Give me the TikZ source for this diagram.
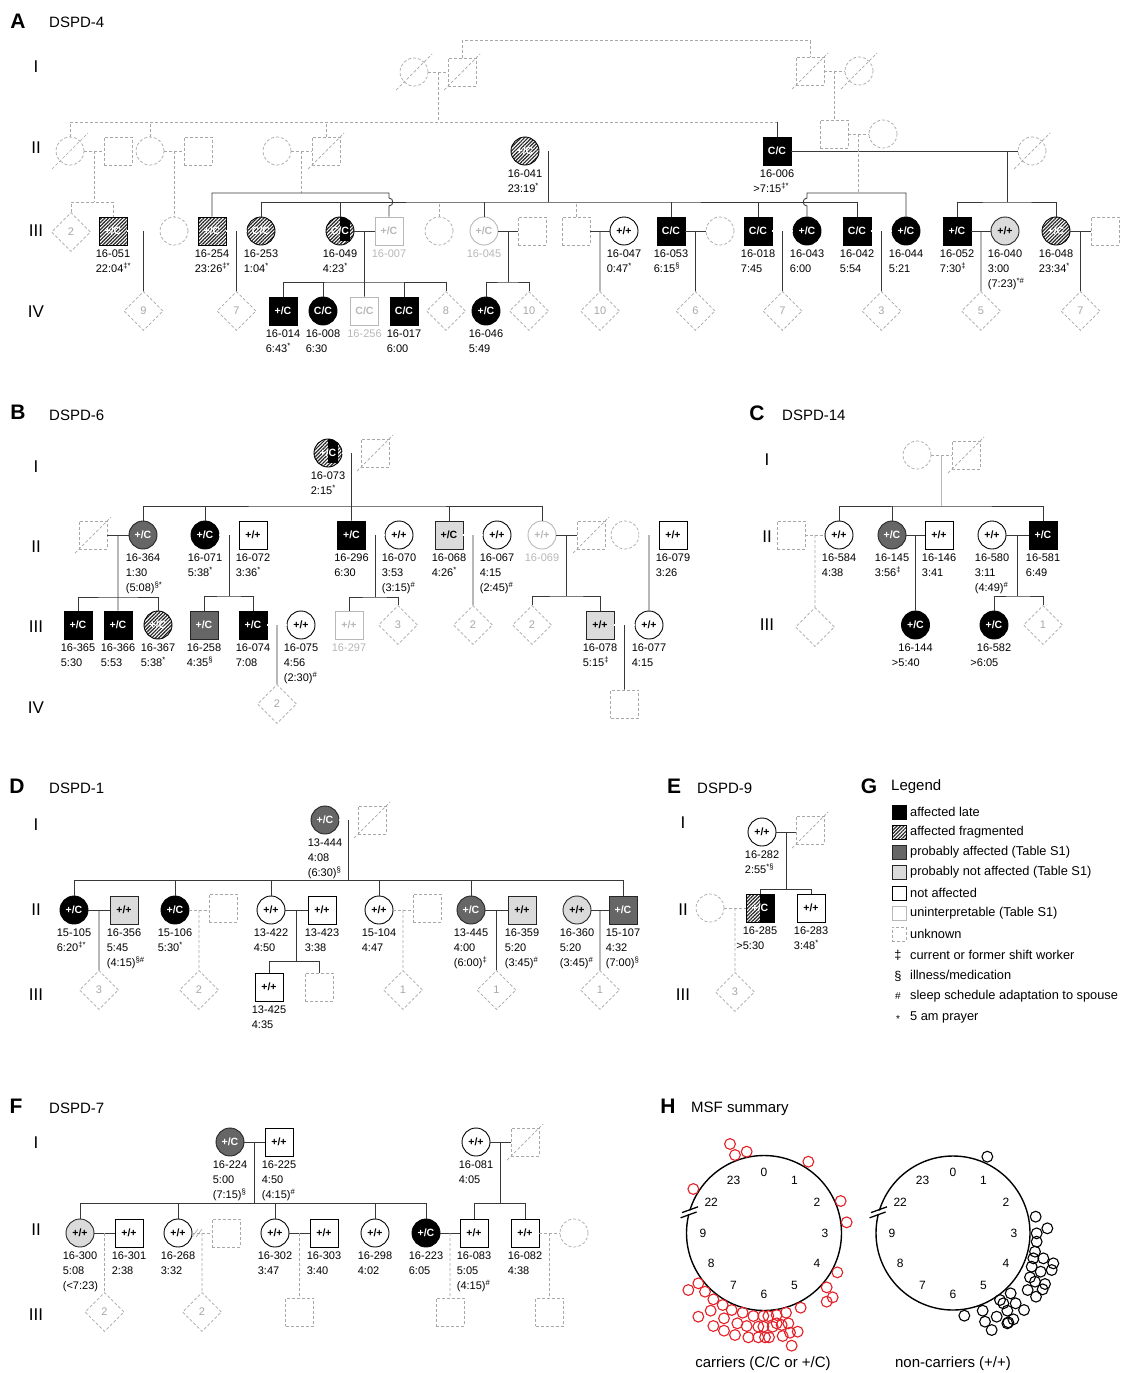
\documentclass[tikz,border=0pt]{standalone}
\usepackage{fontspec}
\setmainfont{Liberation Sans}
\usetikzlibrary{calc,shapes.geometric,patterns.meta}
\definecolor{linec}{gray}{0.22}
\definecolor{unkc}{gray}{0.66}
\definecolor{unc}{gray}{0.72}
\definecolor{probc}{gray}{0.40}
\definecolor{pnac}{gray}{0.86}
\definecolor{redc}{RGB}{228,32,38}
\newcommand\symf{\fontsize{10.5}{12}\selectfont\bfseries}
\newcommand\labf{\fontsize{11}{15}\selectfont}
\newcommand\genf{\fontsize{17}{17}\selectfont}
\newcommand\panf{\fontsize{21}{21}\selectfont\bfseries}
\newcommand\titf{\fontsize{15}{15}\selectfont}
\newcommand\diaf{\fontsize{11}{11}\selectfont}
\newcommand\legf{\fontsize{12.8}{14}\selectfont}
\newcommand\clkf{\fontsize{12}{12}\selectfont}
\newcommand\ssp[1]{\textsuperscript{#1}}
\tikzset{
 symb/.style={inner sep=0pt, minimum size=28pt, line width=0.9pt, font=\symf},
 sq/.style={symb, rectangle},
 ci/.style={symb, circle},
 aff/.style={draw=black, fill=black, text=white},
 frag/.style={draw=black, text=white, pattern={Lines[angle=45,distance=2.5pt,line width=1.2pt]}, pattern color=black!85},
 prob/.style={draw=black!85, fill=probc, text=white},
 pna/.style={draw=black!85, fill=pnac, text=black},
 na/.style={draw=black, fill=white, text=black},
 un/.style={draw=unc, fill=white, text=unc},
 dsh/.style={dash pattern=on 3pt off 2pt},
 unk/.style={draw=unkc, dsh, line width=0.7pt},
 dia/.style={diamond, shape aspect=1, minimum width=39pt, minimum height=39pt, inner sep=0pt, draw=unkc, dsh, line width=0.7pt, text=unkc, font=\diaf},
 ln/.style={draw=linec, line width=0.85pt},
 dl/.style={draw=linec, line width=0.65pt, double=white, double distance=1.3pt},
 dln/.style={draw=unkc, line width=0.7pt, dsh},
 ddl/.style={draw=linec!80, line width=0.6pt, double=white, double distance=1.3pt, dsh},
 lab/.style={anchor=north, align=left, inner sep=0pt, font=\labf},
 gen/.style={font=\genf, inner sep=0pt},
 pan/.style={font=\panf, inner sep=0pt},
 tit/.style={font=\titf, inner sep=0pt, anchor=west},
 leg/.style={font=\legf, inner sep=0pt, anchor=west},
 ico/.style={minimum size=14pt, inner sep=0pt, rectangle, line width=0.8pt},
 dot/.style={line width=1.1pt},
}
\newcommand\decd[1]{\draw[draw=unkc,line width=0.7pt,dsh] ($(#1.center)+(-18,18)$) -- ($(#1.center)+(18,-18)$);}
\newcommand\lbl[3][]{\node[lab,#1] (#2L) at ($(#2.south)+(0,4)$) {#3};}
\newcommand\halfc[2]{\begin{scope}\clip (#1.center) circle[radius=14pt];\fill[black] (#1.north) rectangle (#1.south east);\end{scope}\node[font=\symf,text=white,inner sep=0pt] (#1T) at (#1.center) {#2};}
\newcommand\halfs[2]{\fill[black] (#1.north) rectangle (#1.south east);\node[font=\symf,text=white,inner sep=0pt] (#1T) at (#1.center) {#2};}
\begin{document}
\begin{tikzpicture}[x=1pt,y=-1pt]
\fill[white] (0,0) rectangle (1130,1373);
\useasboundingbox (0,0) rectangle (1130,1373);

%%%%%%%%%%%%%%%% PANEL A
\node[pan] (hA) at (18,21) {A};
\node[tit] (tA) at (49,22) {DSPD-4};
\node[gen] (gA1) at (36,67) {I};
\node[gen] (gA2) at (36,148) {II};
\node[gen] (gA3) at (36,231) {III};
\node[gen] (gA4) at (36,312) {IV};
% gen I
\node[ci,unk] (a1) at (414,72) {};
\node[sq,unk] (a2) at (462,72) {};
\node[sq,unk] (a3) at (810,71) {};
\node[ci,unk] (a4) at (859,71) {};
\decd{a1}\decd{a2}\decd{a3}\decd{a4}
\draw[dln] (a1) -- (a2);
\draw[dln] (a3) -- (a4);
\draw[dln] (a2.north) -- ++(0,-17) -| (a3.north);
% gen II
\node[ci,unk] (a5) at (70,151) {};
\node[sq,unk] (a6) at (118,151) {};
\node[ci,unk] (a7) at (150,151) {};
\node[sq,unk] (a8) at (198,151) {};
\node[ci,unk] (a9) at (277,151) {};
\node[sq,unk] (a10) at (326,151) {};
\node[ci,frag] (p041) at (525,151) {+/C};
\node[sq,aff] (p006) at (777,151) {C/C};
\node[sq,unk] (a11) at (834,134) {};
\node[ci,unk] (a12) at (883,134) {};
\node[ci,unk] (a13) at (1032,151) {};
\decd{a5}\decd{a10}\decd{a13}
\coordinate (sA2) at (70,122);
\draw[dln] (a5.north) -- (sA2) -- (p006.north |- sA2);
\draw[ln] (p006.north |- sA2) -- (p006.north);
\draw[dln] (a7.north) -- (a7.north |- sA2);
\draw[dln] (a10.north) -- (a10.north |- sA2);
\coordinate (jA1) at ($(a1.east)!0.5!(a2.west)$);
\draw[dln] (jA1) -- (jA1 |- sA2);
\coordinate (jA2) at ($(a3.east)!0.5!(a4.west)$);
\draw[dln] (jA2) -- (jA2 |- a11.north);
\draw[dln] (a5) -- (a6);
\draw[dln] (a7) -- (a8);
\draw[dln] (a9) -- (a10);
\draw[dl] (p041) -- (p006);
\draw[dln] (a11) -- (a12);
\draw[ln] (p006) -- (a13);
% gen III
\node[dia] (dA2) at (71,232) {2};
\node[sq,frag] (p051) at (113,231) {+/C};
\node[ci,unk] (a14) at (174,231) {};
\node[sq,frag] (p254) at (212,231) {+/C};
\node[ci,frag] (p253) at (261,231) {C/C};
\node[ci,frag] (p049) at (340,231) {};
\halfc{p049}{C/C}
\node[sq,un] (p007) at (389,231) {+/C};
\node[ci,unk] (a15) at (439,231) {};
\node[ci,un] (p045) at (484,231) {+/C};
\node[sq,unk] (a17) at (532,231) {};
\node[sq,unk] (a16) at (576,231) {};
\node[ci,na] (p047) at (624,231) {+/+};
\node[sq,aff] (p053) at (671,231) {C/C};
\node[ci,unk] (a18) at (720,231) {};
\node[sq,aff] (p018) at (758,231) {C/C};
\node[ci,aff] (p043) at (807,231) {+/C};
\node[sq,aff] (p042) at (857,231) {C/C};
\node[ci,aff] (p044) at (906,231) {+/C};
\node[sq,aff] (p052) at (957,231) {+/C};
\node[ci,pna] (p040) at (1005,231) {+/+};
\node[ci,frag] (p048) at (1056,231) {+/C};
\node[sq,unk] (a19) at (1105,231) {};
% links to gen III
\coordinate (jA5) at ($(a5.east)!0.5!(a6.west)$);
\coordinate (bA1) at (jA5 |- 0,202);
\draw[dln] (jA5) -- (bA1);
\draw[dln] (dA2.north) |- (bA1) -| (p051.north);
\coordinate (jA6) at ($(a7.east)!0.5!(a8.west)$);
\draw[dln] (jA6) -- (jA6 |- a14.north);
\coordinate (jA3) at ($(a9.east)!0.5!(a10.west)$);
\coordinate (bA3) at (jA3 |- 0,193);
\draw[dln] (jA3) -- (bA3);
\draw[ln] (p254.north) |- (bA3) -- (389,193) -- (389,198) .. controls (394,198) and (394,206) .. (389,206) -- (p007.north);
\coordinate (jA4) at (548,151);
\coordinate (bA4) at (548,202);
\draw[ln] (jA4) -- (bA4);
\draw[ln] (p253.north) |- (bA4) -| (p042.north);
\draw[ln] (p049.north) -- (p049.north |- bA4);
\draw[ln] (p045.north) -- (p045.north |- bA4);
\draw[ln] (p053.north) -- (p053.north |- bA4);
\draw[ln] (p018.north) -- (p018.north |- bA4);
\draw[dln] (a15.north) -- (a15.north |- bA4);
\draw[dln] (a16.north) -- (a16.north |- bA4);
\coordinate (jA7) at ($(a11.east)!0.5!(a12.west)$);
\coordinate (bA7) at (jA7 |- 0,193);
\draw[dln] (jA7) -- (bA7);
\draw[ln] (p044.north) |- (bA7) -- (807,193) -- (807,198) .. controls (802,198) and (802,206) .. (807,206) -- (p043.north);
\coordinate (jA8) at (1007,151);
\coordinate (bA8) at (1007,202);
\draw[ln] (jA8) -- (bA8);
\draw[ln] (p052.north) |- (bA8) -| (p048.north);
% gen III marriages
\draw[dl] (p051) -- (a14);
\draw[dl] (p254) -- (p253);
\draw[ln] (p049) -- (p007);
\draw[ln] (p045) -- (a17);
\draw[ln] (a16) -- (p047);
\draw[ln] (p053) -- (a18);
\draw[dl] (p018) -- (p043);
\draw[dl] (p042) -- (p044);
\draw[ln] (p052) -- (p040);
\draw[ln] (p048) -- (a19);
% gen IV
\node[dia] (d9) at (143.5,311) {9};
\node[dia] (d7) at (236.5,311) {7};
\node[sq,aff] (p014) at (283,311) {+/C};
\node[ci,aff] (p008) at (323,311) {C/C};
\node[sq,un] (p256) at (364.5,311) {C/C};
\node[sq,aff] (p017) at (404,311) {C/C};
\node[dia] (d8) at (446,311) {8};
\node[ci,aff] (p046) at (486,311) {+/C};
\node[dia] (d10) at (529,311) {10};
\node[dia] (d10b) at (600,311) {10};
\node[dia] (d6) at (695.5,311) {6};
\node[dia] (d7b) at (782.5,311) {7};
\node[dia] (d3) at (881.5,311) {3};
\node[dia] (d5) at (981,311) {5};
\node[dia] (d7c) at (1080.5,311) {7};
\coordinate (jA9) at ($(p051.east)!0.5!(a14.west)$);
\draw[ln] (jA9) -- (d9.north);
\coordinate (jA10) at ($(p254.east)!0.5!(p253.west)$);
\draw[ln] (jA10) -- (d7.north);
\coordinate (jA11) at ($(p049.east)!0.5!(p007.west)$);
\coordinate (bA9) at (jA11 |- 0,282);
\draw[ln] (jA11) -- (bA9) -- (p256.north);
\draw[ln] (p014.north) |- (bA9) -| (d8.north);
\draw[ln] (p008.north) -- (p008.north |- bA9);
\draw[ln] (p017.north) -- (p017.north |- bA9);
\coordinate (jA12) at ($(p045.east)!0.5!(a17.west)$);
\coordinate (bA10) at (jA12 |- 0,282);
\draw[ln] (jA12) -- (bA10);
\draw[ln] (p046.north) |- (bA10) -| (d10.north);
\coordinate (jA13) at ($(a16.east)!0.5!(p047.west)$);
\draw[ln] (jA13) -- (d10b.north);
\coordinate (jA14) at ($(p053.east)!0.5!(a18.west)$);
\draw[ln] (jA14) -- (d6.north);
\coordinate (jA15) at ($(p018.east)!0.5!(p043.west)$);
\draw[ln] (jA15) -- (d7b.north);
\coordinate (jA16) at ($(p042.east)!0.5!(p044.west)$);
\draw[ln] (jA16) -- (d3.north);
\coordinate (jA17) at ($(p052.east)!0.5!(p040.west)$);
\draw[ln] (jA17) -- (d5.north);
\coordinate (jA18) at ($(p048.east)!0.5!(a19.west)$);
\draw[ln] (jA18) -- (d7c.north);
% labels A
\lbl{p041}{16-041\\\rlap{23:19\ssp{*}}}
\lbl{p006}{16-006\\\rlap{\llap{>}7:15\ssp{‡*}}}
\lbl{p051}{16-051\\\rlap{22:04\ssp{‡*}}}
\lbl{p254}{16-254\\\rlap{23:26\ssp{‡*}}}
\lbl{p253}{16-253\\\rlap{1:04\ssp{*}}}
\lbl{p049}{16-049\\\rlap{4:23\ssp{*}}}
\lbl[text=unc]{p007}{16-007}
\lbl[text=unc]{p045}{16-045}
\lbl{p047}{16-047\\\rlap{0:47\ssp{*}}}
\lbl{p053}{16-053\\\rlap{6:15\ssp{§}}}
\lbl{p018}{16-018\\\rlap{7:45}}
\lbl{p043}{16-043\\\rlap{6:00}}
\lbl{p042}{16-042\\\rlap{5:54}}
\lbl{p044}{16-044\\\rlap{5:21}}
\lbl{p052}{16-052\\\rlap{7:30\ssp{‡}}}
\lbl{p040}{16-040\\\rlap{3:00}\\\rlap{(7:23)\ssp{*\#}}}
\lbl{p048}{16-048\\\rlap{23:34\ssp{*}}}
\lbl{p014}{16-014\\\rlap{6:43\ssp{*}}}
\lbl{p008}{16-008\\\rlap{6:30}}
\lbl[text=unc]{p256}{16-256}
\lbl{p017}{16-017\\\rlap{6:00}}
\lbl{p046}{16-046\\\rlap{5:49}}

%%%%%%%%%%%%%%%% PANEL B
\node[pan] (hB) at (18,412) {B};
\node[tit] (tB) at (49,415) {DSPD-6};
\node[gen] (gB1) at (36,467) {I};
\node[gen] (gB2) at (36,547) {II};
\node[gen] (gB3) at (36,627) {III};
\node[gen] (gB4) at (36,708) {IV};
\node[ci,frag] (b1) at (328,453) {};
\halfc{b1}{+/C}
\node[sq,unk] (b2) at (375,453) {};
\decd{b2}
\draw[ddl] (b1) -- (b2);
\node[sq,unk] (b3) at (93,535) {};
\decd{b3}
\node[ci,prob] (p364) at (143,535) {+/C};
\node[ci,aff] (p071) at (205,535) {+/C};
\node[sq,na] (p072) at (253,535) {+/+};
\node[sq,aff] (p296) at (351.5,535) {+/C};
\node[ci,na] (p070) at (399,535) {+/+};
\node[sq,pna] (p068) at (449,535) {+/C};
\node[ci,na] (p067) at (497,535) {+/+};
\node[ci,un] (p069) at (542,535) {+/+};
\node[sq,unk] (b4) at (591,535) {};
\decd{b4}
\node[ci,unk] (b5) at (625,535) {};
\node[sq,na] (p079) at (673,535) {+/+};
\coordinate (jB1) at ($(b1.east)!0.5!(b2.west)$);
\coordinate (bB1) at (jB1 |- 0,506);
\draw[ln] (jB1) -- (bB1) -- (p296.north);
\draw[ln] (p364.north) |- (bB1) -| (p069.north);
\draw[ln] (p071.north) -- (p071.north |- bB1);
\draw[ln] (p068.north) -- (p068.north |- bB1);
\draw[ln] (b3) -- (p364);
\draw[dl] (p071) -- (p072);
\draw[dl] (p296) -- (p070);
\draw[dl] (p068) -- (p067);
\draw[ln] (p069) -- (b4);
\draw[dl] (b5) -- (p079);
% gen III
\node[sq,aff] (p365) at (78,625) {+/C};
\node[sq,aff] (p366) at (118,625) {+/C};
\node[ci,frag] (p367) at (158,625) {+/C};
\node[sq,prob] (p258) at (204,625) {+/C};
\node[sq,aff] (p074) at (253,625) {+/C};
\node[ci,na] (p075) at (301,625) {+/+};
\node[sq,un] (p297) at (349,625) {+/+};
\node[dia] (d3B) at (398,625) {3};
\node[dia] (d2C) at (473,625) {2};
\node[dia] (d2D) at (532,625) {2};
\node[sq,pna] (p078) at (600,625) {+/+};
\node[ci,na] (p077) at (649,625) {+/+};
\node[dia] (d2B) at (277,704) {2};
\node[sq,unk] (b6) at (624.5,704) {};
\coordinate (jB2) at ($(b3.east)!0.5!(p364.west)$);
\coordinate (bB2) at (jB2 |- 0,597);
\draw[ln] (jB2) -- (bB2) -- (p366.north);
\draw[ln] (p365.north) |- (bB2) -| (p367.north);
\coordinate (jB3) at ($(p071.east)!0.5!(p072.west)$);
\coordinate (bB3) at (jB3 |- 0,596);
\draw[ln] (jB3) -- (bB3);
\draw[ln] (p258.north) |- (bB3) -| (p074.north);
\draw[dl] (p074) -- (p075);
\coordinate (jB4) at ($(p074.east)!0.5!(p075.west)$);
\draw[ln] (jB4) -- (d2B.north);
\coordinate (jB5) at ($(p296.east)!0.5!(p070.west)$);
\coordinate (bB5) at (jB5 |- 0,597);
\draw[ln] (jB5) -- (bB5);
\draw[ln] (p297.north) |- (bB5) -| (d3B.north);
\coordinate (jB6) at ($(p068.east)!0.5!(p067.west)$);
\draw[ln] (jB6) -- (d2C.north);
\coordinate (jB7) at ($(p069.east)!0.5!(b4.west)$);
\coordinate (bB7) at (jB7 |- 0,596);
\draw[ln] (jB7) -- (bB7);
\draw[ln] (d2D.north) |- (bB7) -| (p078.north);
\coordinate (jB8) at ($(b5.east)!0.5!(p079.west)$);
\draw[ln] (jB8) -- (p077.north);
\draw[dl] (p078) -- (p077);
\coordinate (jB9) at ($(p078.east)!0.5!(p077.west)$);
\draw[ln] (jB9) -- (b6.north);
% labels B
\lbl{b1}{16-073\\\rlap{2:15\ssp{*}}}
\lbl{p364}{16-364\\\rlap{1:30}\\\rlap{(5:08)\ssp{§*}}}
\lbl{p071}{16-071\\\rlap{5:38\ssp{*}}}
\lbl{p072}{16-072\\\rlap{3:36\ssp{*}}}
\lbl{p296}{16-296\\\rlap{6:30}}
\lbl{p070}{16-070\\\rlap{3:53}\\\rlap{(3:15)\ssp{\#}}}
\lbl{p068}{16-068\\\rlap{4:26\ssp{*}}}
\lbl{p067}{16-067\\\rlap{4:15}\\\rlap{(2:45)\ssp{\#}}}
\lbl[text=unc]{p069}{16-069}
\lbl{p079}{16-079\\\rlap{3:26}}
\lbl{p365}{16-365\\\rlap{5:30}}
\lbl{p366}{16-366\\\rlap{5:53}}
\lbl{p367}{16-367\\\rlap{5:38\ssp{*}}}
\lbl{p258}{16-258\\\rlap{4:35\ssp{§}}}
\lbl{p074}{16-074\\\rlap{7:08}}
\lbl{p075}{16-075\\\rlap{4:56}\\\rlap{(2:30)\ssp{\#}}}
\lbl[text=unc]{p297}{16-297}
\lbl{p078}{16-078\\\rlap{5:15\ssp{‡}}}
\lbl{p077}{16-077\\\rlap{4:15}}

%%%%%%%%%%%%%%%% PANEL C
\node[pan] (hC) at (757,413) {C};
\node[tit] (tC) at (782,415) {DSPD-14};
\node[gen] (gC1) at (767,460) {I};
\node[gen] (gC2) at (767,537) {II};
\node[gen] (gC3) at (767,625) {III};
\node[ci,unk] (c1) at (917,455) {};
\node[sq,unk] (c2) at (966,455) {};
\decd{c2}
\draw[dln] (c1) -- (c2);
\node[sq,unk] (c3) at (791,535) {};
\node[ci,na] (p584) at (839,535) {+/+};
\node[ci,prob] (p145) at (892,535) {+/C};
\node[sq,na] (p146) at (939,535) {+/+};
\node[ci,na] (p580) at (992,535) {+/+};
\node[sq,aff] (p581) at (1043,535) {+/C};
\coordinate (jC1) at ($(c1.east)!0.5!(c2.west)$);
\coordinate (bC1) at (jC1 |- 0,506);
\draw[draw=unc, line width=0.85pt] (jC1) -- (bC1);
\draw[ln] (p584.north) |- (bC1) -| (p581.north);
\draw[ln] (p145.north) -- (p145.north |- bC1);
\draw[dln] (c3) -- (p584);
\draw[ln] (p145) -- (p146);
\draw[ln] (p580) -- (p581);
\node[dia] (c4) at (815,627) {};
\node[ci,aff] (p144) at (915.5,625) {+/C};
\node[ci,aff] (p582) at (994,625) {+/C};
\node[dia] (d1C) at (1043,625) {1};
\coordinate (jC2) at ($(c3.east)!0.5!(p584.west)$);
\draw[dln] (jC2) -- (c4.north);
\coordinate (jC3) at ($(p145.east)!0.5!(p146.west)$);
\draw[ln] (jC3) -- (p144.north);
\coordinate (jC4) at ($(p580.east)!0.5!(p581.west)$);
\coordinate (bC4) at (jC4 |- 0,596);
\draw[ln] (jC4) -- (bC4);
\draw[ln] (p582.north) |- (bC4) -| (d1C.north);
\lbl{p584}{16-584\\\rlap{4:38}}
\lbl{p145}{16-145\\\rlap{3:56\ssp{‡}}}
\lbl{p146}{16-146\\\rlap{3:41}}
\lbl{p580}{16-580\\\rlap{3:11}\\\rlap{(4:49)\ssp{\#}}}
\lbl{p581}{16-581\\\rlap{6:49}}
\lbl{p144}{16-144\\\rlap{\llap{>}5:40}}
\lbl{p582}{16-582\\\rlap{\llap{>}6:05}}

%%%%%%%%%%%%%%%% PANEL D
\node[pan] (hD) at (17,786) {D};
\node[tit] (tD) at (49,788) {DSPD-1};
\node[gen] (gD1) at (36,825) {I};
\node[gen] (gD2) at (36,910) {II};
\node[gen] (gD3) at (36,995) {III};
\node[ci,prob] (p444) at (325,820) {+/C};
\node[sq,unk] (dD0) at (372,820) {};
\decd{dD0}
\draw[ddl] (p444) -- (dD0);
\node[ci,aff] (p105) at (74,910) {+/C};
\node[sq,pna] (p356) at (124,910) {+/+};
\node[ci,aff] (p106) at (175,910) {+/C};
\node[sq,unk] (dD1) at (223,908) {};
\node[ci,na] (p422) at (271,910) {+/+};
\node[sq,na] (p423) at (322,910) {+/+};
\node[ci,na] (p104) at (379,910) {+/+};
\node[sq,unk] (dD2) at (427,908) {};
\node[ci,prob] (p445) at (471,910) {+/C};
\node[sq,pna] (p359) at (522,910) {+/+};
\node[ci,pna] (p360) at (577,910) {+/+};
\node[sq,prob] (p107) at (623,910) {+/C};
\coordinate (jD1) at ($(p444.east)!0.5!(dD0.west)$);
\coordinate (bD1) at (jD1 |- 0,880);
\draw[ln] (jD1) -- (bD1);
\draw[ln] (p105.north) |- (bD1) -| (p107.north);
\draw[ln] (p106.north) -- (p106.north |- bD1);
\draw[ln] (p422.north) -- (p422.north |- bD1);
\draw[ln] (p104.north) -- (p104.north |- bD1);
\draw[ln] (p445.north) -- (p445.north |- bD1);
\draw[ln] (p105) -- (p356);
\draw[dln] (p106.east) -- (p106.east -| dD1.west);
\draw[ln] (p422) -- (p423);
\draw[dln] (p104.east) -- (p104.east -| dD2.west);
\draw[ln] (p445) -- (p359);
\draw[ln] (p360) -- (p107);
\node[dia] (d3D) at (99,990) {3};
\node[dia] (d2E) at (199,990) {2};
\node[sq,na] (p425) at (269,987) {+/+};
\node[sq,unk] (dD3) at (319,987) {};
\node[dia] (d1D) at (403,990) {1};
\node[dia] (d1E) at (496.5,990) {1};
\node[dia] (d1F) at (600,990) {1};
\coordinate (jD2) at ($(p105.east)!0.5!(p356.west)$);
\draw[ln] (jD2) -- (d3D.north);
\coordinate (jD3) at ($(p106.east)!0.5!(p106.east -| dD1.west)$);
\draw[dln] (jD3) -- (d2E.north);
\coordinate (jD4) at ($(p422.east)!0.5!(p423.west)$);
\coordinate (bD4) at (jD4 |- 0,961);
\draw[ln] (jD4) -- (bD4);
\draw[ln] (p425.north) |- (bD4) -| (dD3.north);
\coordinate (jD5) at ($(p104.east)!0.5!(p104.east -| dD2.west)$);
\draw[dln] (jD5) -- (d1D.north);
\coordinate (jD6) at ($(p445.east)!0.5!(p359.west)$);
\draw[ln] (jD6) -- (d1E.north);
\coordinate (jD7) at ($(p360.east)!0.5!(p107.west)$);
\draw[ln] (jD7) -- (d1F.north);
\lbl{p444}{13-444\\\rlap{4:08}\\\rlap{(6:30)\ssp{§}}}
\lbl{p105}{15-105\\\rlap{6:20\ssp{‡*}}}
\lbl{p356}{16-356\\\rlap{5:45}\\\rlap{(4:15)\ssp{§\#}}}
\lbl{p106}{15-106\\\rlap{5:30\ssp{*}}}
\lbl{p422}{13-422\\\rlap{4:50}}
\lbl{p423}{13-423\\\rlap{3:38}}
\lbl{p104}{15-104\\\rlap{4:47}}
\lbl{p445}{13-445\\\rlap{4:00}\\\rlap{(6:00)\ssp{‡}}}
\lbl{p359}{16-359\\\rlap{5:20}\\\rlap{(3:45)\ssp{\#}}}
\lbl{p360}{16-360\\\rlap{5:20}\\\rlap{(3:45)\ssp{\#}}}
\lbl{p107}{15-107\\\rlap{4:32}\\\rlap{(7:00)\ssp{§}}}
\lbl{p425}{13-425\\\rlap{4:35}}

%%%%%%%%%%%%%%%% PANEL E
\node[pan] (hE) at (674,786) {E};
\node[tit] (tE) at (697,788) {DSPD-9};
\node[gen] (gE1) at (683,823) {I};
\node[gen] (gE2) at (683,910) {II};
\node[gen] (gE3) at (683,995) {III};
\node[ci,na] (p282) at (762,832) {+/+};
\node[sq,unk] (e1) at (810,830) {};
\decd{e1}
\draw[ln] (p282.east) -- (p282.east -| e1.west);
\node[sq,frag] (p285) at (760,908) {};
\halfs{p285}{+/C}
\node[sq,na] (p283) at (811,908) {+/+};
\node[ci,unk] (e2) at (710,908) {};
\coordinate (jE1) at ($(p282.east)!0.5!(p282.east -| e1.west)$);
\coordinate (bE1) at (jE1 |- 0,889);
\draw[ln] (jE1) -- (bE1);
\draw[ln] (p285.north) |- (bE1) -| (p283.north);
\draw[dln] (e2) -- (p285);
\node[dia] (d3E) at (735,992) {3};
\coordinate (jE2) at ($(e2.east)!0.5!(p285.west)$);
\draw[dln] (jE2) -- (d3E.north);
\lbl{p282}{16-282\\\rlap{2:55\ssp{*§}}}
\lbl{p285}{16-285\\\rlap{\llap{>}5:30}}
\lbl{p283}{16-283\\\rlap{3:48\ssp{*}}}

%%%%%%%%%%%%%%%% PANEL G legend
\node[pan] (hG) at (869,786) {G};
\node[tit] (tG) at (891,787) {Legend};
\node[ico,aff] (g1) at (899,812) {};
\node[ico,frag] (g2) at (899,832) {};
\node[ico,prob] (g3) at (899,852) {};
\node[ico,pna] (g4) at (899,872) {};
\node[ico,na] (g5) at (899,893) {};
\node[ico,un] (g6) at (899,913) {};
\node[ico,unk] (g7) at (899,934) {};
\node[leg] (gt1) at (910,812) {affected late};
\node[leg] (gt2) at (910,832) {affected fragmented};
\node[leg] (gt3) at (910,852) {probably affected (Table S1)};
\node[leg] (gt4) at (910,872) {probably not affected (Table S1)};
\node[leg] (gt5) at (910,893) {not affected};
\node[leg] (gt6) at (910,913) {uninterpretable (Table S1)};
\node[leg] (gt7) at (910,934) {unknown};
\node[font=\legf, inner sep=0pt] (gs8) at (898,955) {‡};
\node[font=\legf, inner sep=0pt] (gs9) at (898,976) {§};
\node[font=\fontsize{10}{10}\selectfont, inner sep=0pt] (gs10) at (898,996) {\#};
\node[font=\fontsize{10}{10}\selectfont, inner sep=0pt] (gs11) at (898,1019) {*};
\node[leg] (gt8) at (910,955) {current or former shift worker};
\node[leg] (gt9) at (910,975) {illness/medication};
\node[leg] (gt10) at (910,996) {sleep schedule adaptation to spouse};
\node[leg] (gt11) at (910,1017) {5 am prayer};

%%%%%%%%%%%%%%%% PANEL F
\node[pan] (hF) at (16,1106) {F};
\node[tit] (tF) at (49,1108) {DSPD-7};
\node[gen] (gF1) at (36,1143) {I};
\node[gen] (gF2) at (36,1230) {II};
\node[gen] (gF3) at (36,1315) {III};
\node[ci,prob] (p224) at (230,1142) {+/C};
\node[sq,na] (p225) at (279,1142) {+/+};
\node[ci,na] (p081) at (476,1142) {+/+};
\node[sq,unk] (f1) at (525,1142) {};
\decd{f1}
\draw[ln] (p224) -- (p225);
\draw[ln] (p081) -- (f1);
\node[ci,pna] (p300) at (80,1233) {+/+};
\node[sq,na] (p301) at (129,1233) {+/+};
\node[ci,na] (p268) at (178,1233) {+/+};
\node[sq,unk] (f2) at (226,1233) {};
\node[ci,na] (p302) at (275,1233) {+/+};
\node[sq,na] (p303) at (324,1233) {+/+};
\node[ci,na] (p298) at (375,1233) {+/+};
\node[ci,aff] (p223) at (426,1233) {+/C};
\node[sq,na] (p083) at (474,1233) {+/+};
\node[sq,na] (p082) at (525,1233) {+/+};
\node[ci,unk] (f3) at (574,1233) {};
\coordinate (jF1) at ($(p224.east)!0.5!(p225.west)$);
\coordinate (bF1) at (jF1 |- 0,1203);
\draw[ln] (jF1) -- (bF1);
\draw[ln] (p300.north) |- (bF1) -| (p223.north);
\draw[ln] (p268.north) -- (p268.north |- bF1);
\draw[ln] (p302.north) -- (p302.north |- bF1);
\draw[ln] (p298.north) -- (p298.north |- bF1);
\coordinate (jF2) at ($(p081.east)!0.5!(f1.west)$);
\coordinate (bF2) at (jF2 |- 0,1203);
\draw[ln] (jF2) -- (bF2);
\draw[ln] (p083.north) |- (bF2) -| (p082.north);
\draw[ln] (p300) -- (p301);
\draw[dln] (p268) -- (f2);
\draw[draw=unkc, line width=0.6pt] (192,1237) -- (198,1229) (196,1237) -- (202,1229);
\draw[ln] (p302) -- (p303);
\draw[ln] (p223) -- (p083);
\draw[dln] (p082) -- (f3);
\node[dia] (d2F) at (104.5,1312) {2};
\node[dia] (d2G) at (202,1312) {2};
\node[sq,unk] (f4) at (299.5,1312) {};
\node[sq,unk] (f5) at (450,1312) {};
\node[sq,unk] (f6) at (549.5,1312) {};
\coordinate (jF3) at ($(p300.east)!0.5!(p301.west)$);
\draw[dln] (jF3) -- (d2F.north);
\coordinate (jF4) at ($(p268.east)!0.5!(f2.west)$);
\draw[dln] (jF4) -- (d2G.north);
\coordinate (jF5) at ($(p302.east)!0.5!(p303.west)$);
\draw[dln] (jF5) -- (f4.north);
\coordinate (jF6) at ($(p223.east)!0.5!(p083.west)$);
\draw[dln] (jF6) -- (f5.north);
\coordinate (jF7) at ($(p082.east)!0.5!(f3.west)$);
\draw[dln] (jF7) -- (f6.north);
\lbl{p224}{16-224\\\rlap{5:00}\\\rlap{(7:15)\ssp{§}}}
\lbl{p225}{16-225\\\rlap{4:50}\\\rlap{(4:15)\ssp{\#}}}
\lbl{p081}{16-081\\\rlap{4:05}}
\lbl{p300}{16-300\\\rlap{5:08}\\\rlap{(<7:23)}}
\lbl{p301}{16-301\\\rlap{2:38}}
\lbl{p268}{16-268\\\rlap{3:32}}
\lbl{p302}{16-302\\\rlap{3:47}}
\lbl{p303}{16-303\\\rlap{3:40}}
\lbl{p298}{16-298\\\rlap{4:02}}
\lbl{p223}{16-223\\\rlap{6:05}}
\lbl{p083}{16-083\\\rlap{5:05}\\\rlap{(4:15)\ssp{\#}}}
\lbl{p082}{16-082\\\rlap{4:38}}

%%%%%%%%%%%%%%%% PANEL H
\node[pan] (hH) at (668,1106) {H};
\node[tit] (tH) at (691,1109) {MSF summary};
\node[circle, draw, line width=1.4pt, minimum size=155pt, inner sep=0pt] (cL) at (764,1233) {};
\node[circle, draw, line width=1.4pt, minimum size=154pt, inner sep=0pt] (cR) at (953,1233) {};
\foreach \t [count=\k from 0] in {0,1,2,3,4,5,6,7,8,9,22,23} {
  \node[font=\clkf, inner sep=0pt] (nL\k) at ($(cL.center)+({30*\k-90}:61)$) {\t};
  \node[font=\clkf, inner sep=0pt] (nR\k) at ($(cR.center)+({30*\k-90}:61)$) {\t};
}
\foreach \c in {cL,cR} {
  \coordinate (br\c) at ($(\c.center)+(-74.7,-20.7)$);
  \draw[white, line width=4pt] ($(br\c)+(0.55,-1.9)$) -- ($(br\c)+(-0.55,1.9)$);
  \draw[black, line width=1.3pt] ($(br\c)+(-0.7,2.6)+(-8,2.9)$) -- ($(br\c)+(-0.7,2.6)+(8,-2.9)$);
  \draw[black, line width=1.3pt] ($(br\c)+(0.7,-2.6)+(-8,2.9)$) -- ($(br\c)+(0.7,-2.6)+(8,-2.9)$);
}
\foreach \a/\b in {240/162,255/195,290/185,475/215,130/297,572/333,590/397,562/547,145/580,115/600,165/605,530/592,548/622,530/635,190/628,218/645,452/653,182/662,245/660,278/668,145/680,222/685,310/678,340/678,355/678,380/675,408/668,262/700,190/708,290/708,325/710,340/710,368/710,395/705,415/700,222/722,255/735,295/742,325/742,345/742,357/742,398/738,420/728,443/725,425/767,380/700}
  \draw[redc, dot] (650+\a/3,1090+\b/3) circle[radius=5.4pt];
\foreach \a/\b in {1012/200,1157/380,1192/415,1160/430,1160/455,1155/485,1150/505,1180/505,1210/520,1205/540,1145/530,1172/545,1140/562,1155/575,1185/582,1178/598,1133/600,1158/620,1082/610,1050/630,1060/640,1097/640,1122/660,998/662,1072/662,943/677,1040/680,1090/688,1075/697,1005/695,1025/720,1072/700}
  \draw[black, dot] (650+\a/3,1090+\b/3) circle[radius=5.4pt];
\node[font=\titf, inner sep=0pt] (lH1) at (763,1364) {carriers (C/C or +/C)};
\node[font=\titf, inner sep=0pt] (lH2) at (953,1364) {non-carriers (+/+)};
\end{tikzpicture}
\end{document}
